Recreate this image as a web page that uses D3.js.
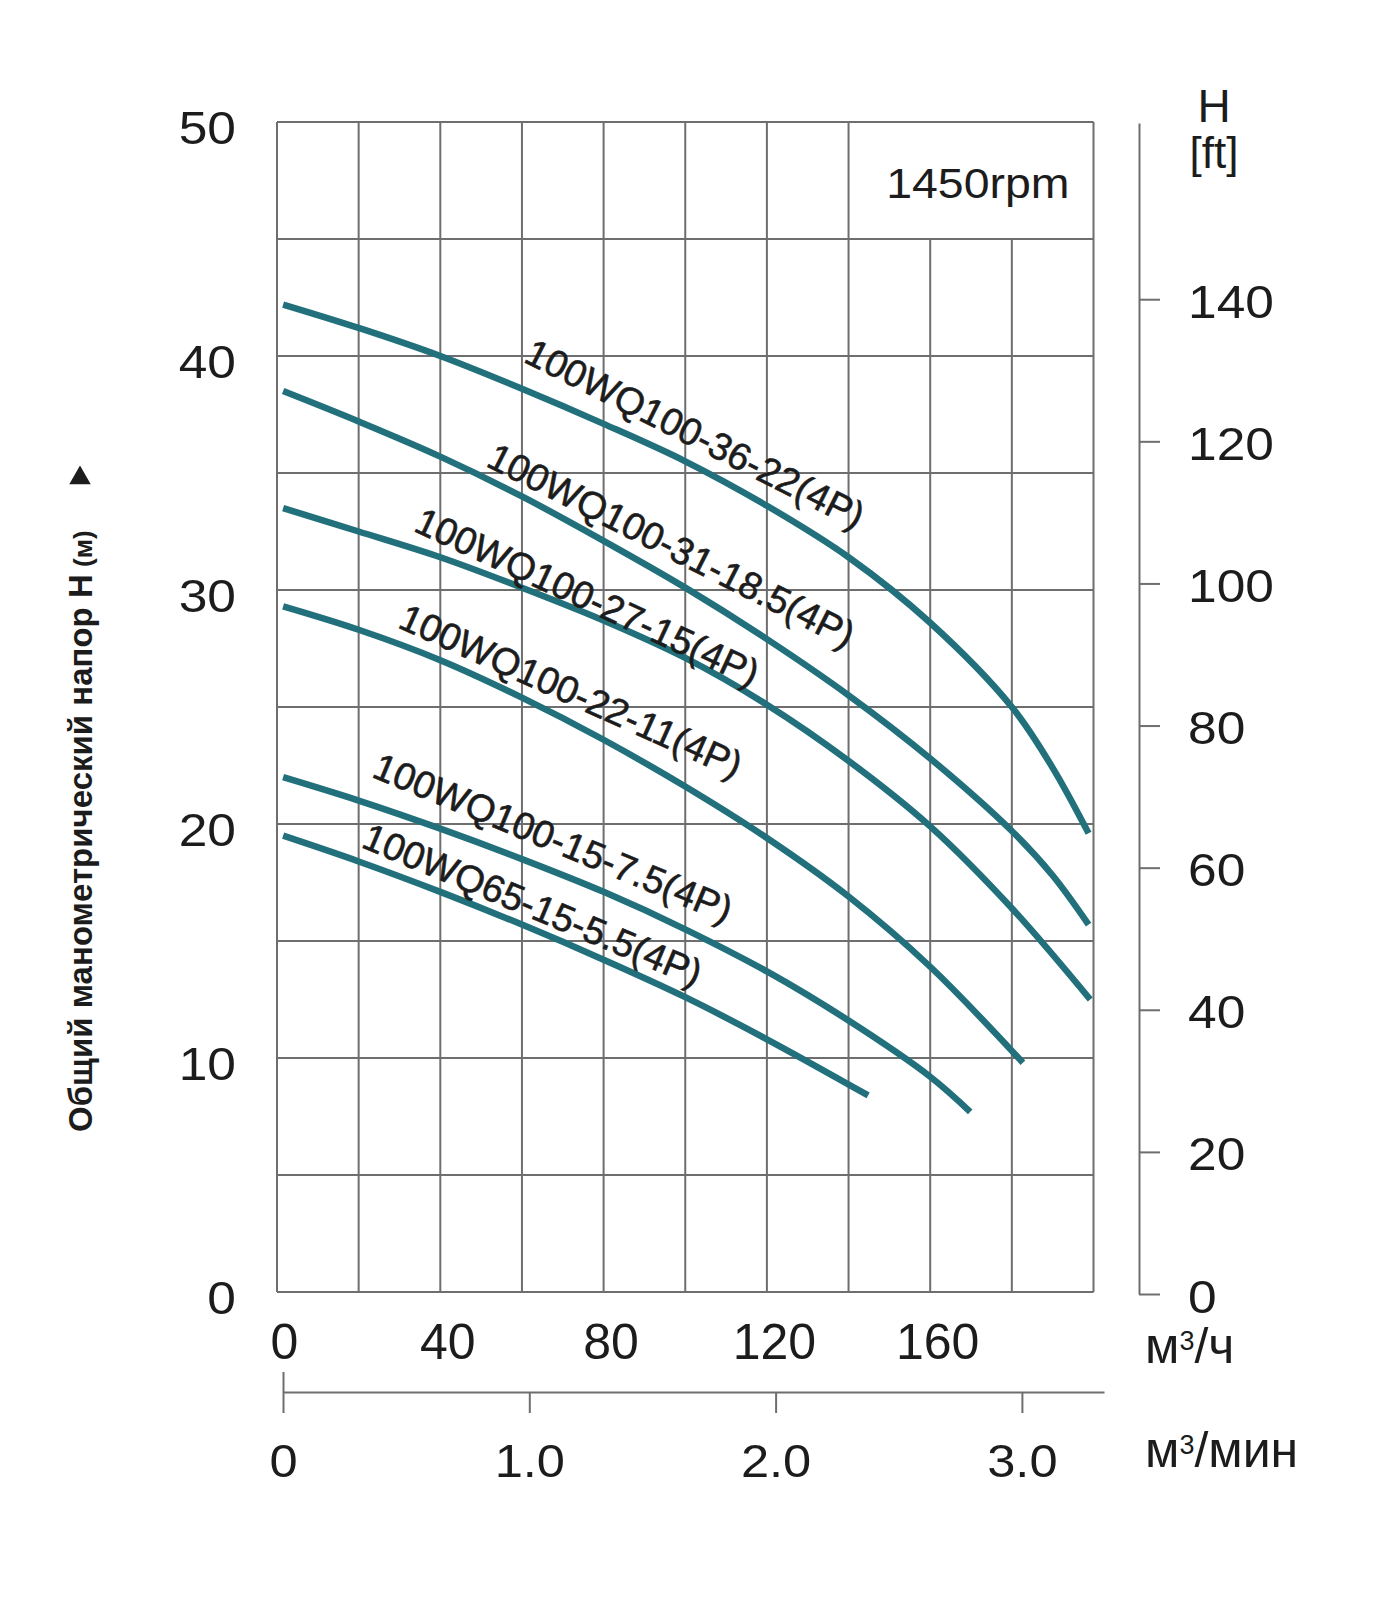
<!DOCTYPE html>
<html><head><meta charset="utf-8">
<script src="https://cdn.jsdelivr.net/npm/d3@7"></script>
<style>
html,body{margin:0;padding:0;background:#fff;}
svg{display:block;}
text{font-family:"Liberation Sans", Arial, sans-serif;}
</style></head><body>
<svg id="chart" width="1400" height="1600"></svg>
<script>
// ---------- data ----------
const flowTicks = [0, 40, 80, 120, 160];            // м³/ч labels
const minTicks = [0, 1, 2, 3];                       // м³/мин ticks
const minTickLabels = ["0", "1.0", "2.0", "3.0"];
const headTicks = [0, 10, 20, 30, 40, 50];           // m
const ftTicks = [0, 20, 40, 60, 80, 100, 120, 140];  // ft
const gridFlow = [0, 20, 40, 60, 80, 100, 120, 140, 160, 180, 200];
const gridHead = [0, 5, 10, 15, 20, 25, 30, 35, 40, 45, 50];

const seriesNames = ["100WQ100-36-22(4P)", "100WQ100-31-18.5(4P)", "100WQ100-27-15(4P)",
                     "100WQ100-22-11(4P)", "100WQ100-15-7.5(4P)", "100WQ65-15-5.5(4P)"];
const q1 = [1.5, 20, 40, 60, 80, 100, 120, 140, 160, 180, 190, 198.8];
const h1 = [42.2, 41.2, 40.0, 38.6, 37.1, 35.5, 33.6, 31.4, 28.6, 25.0, 22.4, 19.6];
const q2 = [1.5, 20, 40, 60, 80, 100, 120, 140, 160, 180, 190, 198.8];
const h2 = [38.5, 37.2, 35.7, 34.0, 32.1, 30.1, 27.9, 25.5, 22.8, 19.7, 17.8, 15.7];
const q3 = [1.5, 20, 40, 60, 80, 100, 120, 140, 160, 180, 199.2];
const h3 = [33.5, 32.5, 31.4, 30.1, 28.7, 27.1, 25.1, 22.7, 19.9, 16.4, 12.5];
const q4 = [1.5, 20, 40, 60, 80, 100, 120, 140, 160, 182.7];
const h4 = [29.3, 28.3, 27.0, 25.4, 23.6, 21.6, 19.4, 16.9, 13.9, 9.8];
const q5 = [1.5, 20, 40, 60, 80, 100, 120, 140, 160, 169.8];
const h5 = [22.0, 21.0, 19.8, 18.5, 17.1, 15.5, 13.7, 11.6, 9.2, 7.7];
const q6 = [1.5, 20, 40, 60, 80, 100, 120, 144.8];
const h6 = [19.5, 18.4, 17.1, 15.7, 14.2, 12.6, 10.8, 8.4];

// label anchors (flow, head at text centre) and rotation
const labelQ = [102.4, 96.6, 76.0, 72.0, 67.6, 62.6];
const labelH = [36.67, 31.9, 29.7, 25.68, 19.4, 16.54];
const labelAngle = [26.8, 26.9, 24.8, 24.2, 22.5, 22.7];

const speedLabel = "1450rpm";

// ---------- drawing ----------
const svg = d3.select("#chart");
const x = d3.scaleLinear().domain([0, 200]).range([277, 1093.5]);
const y = d3.scaleLinear().domain([0, 50]).range([1292, 122]);
const yFt = d3.scaleLinear().domain([0, 164.8]).range([1294, 123]);
const xMin = d3.scaleLinear().domain([0, 3.3333]).range([283, 1104]);

const gridColor = "#6e6e6e";
const curveColor = "#21707c";
const textColor = "#1c1c1c";

// grid
const grid = svg.append("g");
grid.selectAll("line.h").data(gridHead).join("line")
  .attr("x1", x(0)).attr("x2", x(200))
  .attr("y1", d => y(d)).attr("y2", d => y(d))
  .attr("stroke", gridColor).attr("stroke-width", 2);
grid.selectAll("line.v").data(gridFlow).join("line")
  .attr("x1", d => x(d)).attr("x2", d => x(d))
  .attr("y1", y(0))
  .attr("y2", d => (d > 140 && d < 200) ? y(45) : y(50))
  .attr("stroke", gridColor).attr("stroke-width", 2);

// speed box text
svg.append("text")
  .attr("text-anchor", "end")
  .attr("transform", `translate(${x(200) - 24},${y(46.75)}) scale(1.08,1)`)
  .attr("font-size", 43).attr("fill", textColor)
  .text(speedLabel);

// curves
const allQ = [q1, q2, q3, q4, q5, q6];
const allH = [h1, h2, h3, h4, h5, h6];
const seriesData = seriesNames.map((n, i) => allQ[i].map((q, j) => [q, allH[i][j]]));
const line = d3.line().x(d => x(d[0])).y(d => y(d[1])).curve(d3.curveCatmullRom.alpha(0.5));
svg.append("g").selectAll("path").data(seriesData).join("path")
  .attr("d", line)
  .attr("fill", "none").attr("stroke", curveColor)
  .attr("stroke-width", 6.5).attr("stroke-linecap", "butt");

// curve labels
svg.append("g").selectAll("text").data(seriesNames).join("text")
  .attr("text-anchor", "middle")
  .attr("dominant-baseline", "central")
  .attr("transform", (d, i) => `translate(${x(labelQ[i])},${y(labelH[i])}) rotate(${labelAngle[i]})`)
  .attr("font-size", 38).attr("fill", textColor)
  .attr("stroke", textColor).attr("stroke-width", 0.6)
  .text(d => d);

// left axis (m)
const gL = svg.append("g").attr("transform", `translate(${x(0)},0)`)
  .call(d3.axisLeft(y).tickValues(headTicks).tickSize(0).tickPadding(41).tickFormat(d3.format("d")));
gL.attr("font-size", null).attr("font-family", null);
gL.select(".domain").remove();
gL.selectAll("text").attr("x", 0).attr("dy", "0.35em")
  .attr("transform", "translate(-41,5) scale(1.12,1)")
  .attr("font-size", 46).attr("fill", textColor);

// right axis (ft)
const gR = svg.append("g").attr("transform", `translate(1139,0)`)
  .call(d3.axisRight(yFt).tickValues(ftTicks).tickSize(21).tickSizeOuter(0).tickPadding(28).tickFormat(d3.format("d")));
gR.attr("font-size", null).attr("font-family", null);
gR.select(".domain").attr("stroke", gridColor).attr("stroke-width", 2);
gR.selectAll(".tick line").attr("stroke", gridColor).attr("stroke-width", 2);
gR.selectAll("text").attr("x", 0).attr("dy", "0.35em")
  .attr("transform", "translate(49,2) scale(1.12,1)")
  .attr("font-size", 46).attr("fill", textColor);

// bottom axis (м³/ч) labels only
const gB = svg.append("g").attr("transform", `translate(0,${y(0)})`)
  .call(d3.axisBottom(x).tickValues(flowTicks).tickSize(0).tickFormat(d3.format("d")));
gB.attr("font-size", null).attr("font-family", null);
gB.select(".domain").remove();
gB.selectAll("text").attr("y", 0).attr("dy", null)
  .attr("transform", "translate(7,67)")
  .attr("font-size", 50).attr("fill", textColor);

// minute axis
const gM = svg.append("g").attr("transform", `translate(0,1392)`)
  .call(d3.axisBottom(xMin).tickValues(minTicks).tickSize(21).tickSizeOuter(0)
    .tickFormat((d, i) => minTickLabels[i]));
gM.attr("font-size", null).attr("font-family", null);
gM.select(".domain").attr("stroke", gridColor).attr("stroke-width", 2);
gM.selectAll(".tick line").attr("stroke", gridColor).attr("stroke-width", 2)
  .attr("y1", d => d === 0 ? -20 : 0);
gM.selectAll("text").attr("y", 0).attr("dy", null)
  .attr("transform", "translate(0,85) scale(1.1,1)")
  .attr("font-size", 46).attr("fill", textColor);

// units with superscript 3
function unit(xp, yp, tail) {
  const t = svg.append("text").attr("x", xp).attr("y", yp).attr("font-size", 50).attr("fill", textColor);
  t.append("tspan").text("м");
  t.append("tspan").attr("font-size", 27).attr("dy", -13).text("3");
  t.append("tspan").attr("dy", 13).text(tail);
}
unit(1145, 1363, "/ч");
unit(1145, 1467, "/мин");
svg.append("text").attr("x", 1214).attr("y", 122).attr("text-anchor", "middle").attr("font-size", 46).attr("fill", textColor).text("H");
svg.append("text").attr("x", 1214).attr("y", 168).attr("text-anchor", "middle").attr("font-size", 44).attr("fill", textColor).text("[ft]");

// y title
const title = svg.append("text")
  .attr("transform", "translate(92,1132) rotate(-90)")
  .attr("font-size", 33).attr("font-weight", "bold").attr("fill", textColor);
title.append("tspan").text("Общий манометрический напор H");
title.append("tspan").attr("font-size", 26).text(" (м)");
svg.append("path")
  .attr("d", d3.symbol(d3.symbolTriangle, 200)())
  .attr("transform", "translate(80,478)")
  .attr("fill", textColor);
</script>
</body></html>
